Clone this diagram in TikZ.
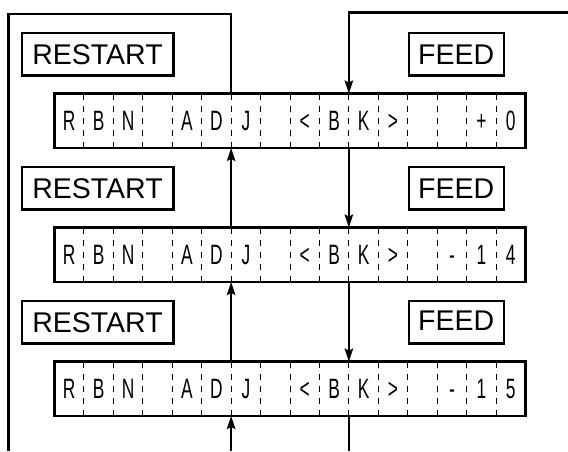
\documentclass[tikz,border=0pt]{standalone}
\usepackage{fontspec}
\setmainfont{Liberation Sans}
\newfontfamily\cellfont[FakeStretch=0.62]{Liberation Sans}
\usetikzlibrary{arrows.meta}
\begin{document}
\begin{tikzpicture}[x=1pt,y=-1pt,
  labelbox/.style={draw,line width=2.4pt,inner sep=0pt,outer sep=0pt,minimum height=42.6pt,
     text height=20pt,text depth=0pt,font=\fontsize{28.5}{28.5}\selectfont},
  rbox/.style={labelbox,minimum width=151.6pt},
  fbox/.style={labelbox,minimum width=95pt},
  display/.style={draw,line width=2.6pt,inner sep=0pt,outer sep=0pt,minimum width=471pt,minimum height=54.5pt},
  cell/.style={inner sep=0pt,text height=20pt,text depth=0pt,font=\cellfont\fontsize{28}{28}\selectfont},
  divider/.style={line width=1pt,dash pattern=on 6pt off 6pt},
  conn/.style={line width=2.2pt},
  arr/.style={conn,-{Stealth[length=13pt,width=8.5pt,inset=2pt]}}]
\useasboundingbox (0,0) rectangle (568,451);
% display rows
\foreach \r/\yc/\yl in {1/120.75/54,2/254.75/188,3/388.75/322}{
  \node[display] (d\r) at (290,\yc) {};
  \node[rbox] (r\r) at (97.5,\yl) {RESTART};
  \foreach \k in {1,...,15}{
    \draw[divider] ([xshift=\k*29.4375pt]d\r.north west) -- ([xshift=\k*29.4375pt]d\r.south west);
  }
}
\node[fbox] (f1) at (456.2,54) {FEED};
\node[fbox] (f2) at (456.2,188) {FEED};
\node[fbox,text height=17pt] (f3) at (456.2,322) {FEED};
% cell texts
\foreach \c [count=\i] in {R,B,N,{},A,D,J,{},<,B,K,>,{},{},+,0}{
  \node[cell] (c1-\i) at (54.5+\i*29.4375-14.72,120.75) {\c};
}
\foreach \c [count=\i] in {R,B,N,{},A,D,J,{},<,B,K,>,{},-,1,4}{
  \node[cell] (c2-\i) at (54.5+\i*29.4375-14.72,254.75) {\c};
}
\foreach \c [count=\i] in {R,B,N,{},A,D,J,{},<,B,K,>,{},-,1,5}{
  \node[cell] (c3-\i) at (54.5+\i*29.4375-14.72,388.75) {\c};
}
% connector helper coordinates
\coordinate (xR) at (231.125,0);
\coordinate (xF) at (348.875,0);
\coordinate (tl) at (8.5,14);
\coordinate (bl) at (8.5,451);
\coordinate (tr) at (568,12.5);
\coordinate (bot) at (0,451);
% restart loop
\draw[conn] (bl) -- (tl) -- (tl -| xR) -- (d1.north -| xR);
\draw[arr] (d2.north -| xR) -- (d1.south -| xR);
\draw[arr] (d3.north -| xR) -- (d2.south -| xR);
\draw[arr] (bot -| xR) -- (d3.south -| xR);
% feed path
\draw[arr] (tr) -- (tr -| xF) -- (d1.north -| xF);
\draw[arr] (d1.south -| xF) -- (d2.north -| xF);
\draw[arr] (d2.south -| xF) -- (d3.north -| xF);
\draw[conn] (d3.south -| xF) -- (bot -| xF);
\end{tikzpicture}
\end{document}
